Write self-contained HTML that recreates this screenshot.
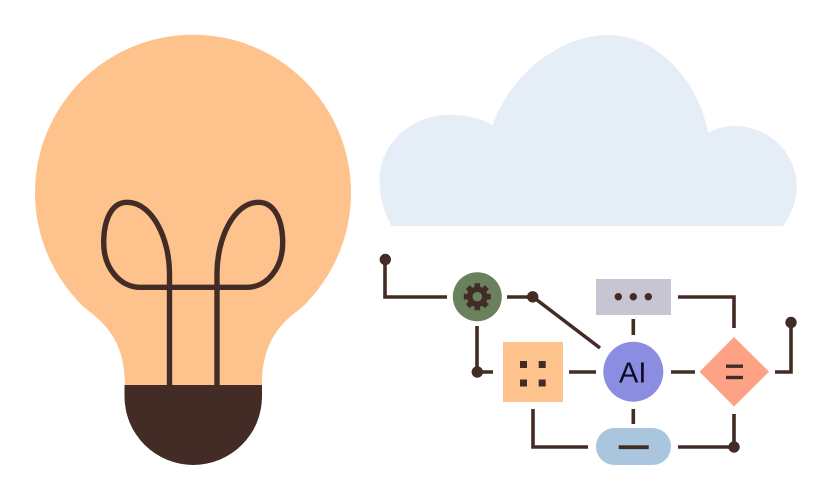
<!DOCTYPE html>
<html>
<head>
<meta charset="utf-8">
<style>
html,body{margin:0;padding:0;background:#fff;width:832px;height:500px;overflow:hidden}
svg{display:block}
</style>
</head>
<body>
<svg width="832" height="500" viewBox="0 0 832 500" xmlns="http://www.w3.org/2000/svg">
<!-- bulb -->
<path d="M77 300 A158 158 0 1 1 309 300 C305 305 301 308 296 312 C278 326 262 345 262 385 L125 385 C125 345 108 326 90 312 C85 308 81 305 77 300 Z" fill="#fec28c"/>
<path d="M124.500 385 H262 V396.500 A68.750 68.500 0 0 1 124.500 396.500 Z" fill="#422c25"/>
<g fill="none" stroke="#422c25" stroke-width="5.400">
<path d="M169.500 386 V273 C169.500 240 153 202.300 127 202.300 C111 202.300 103.700 221 103.700 243 C103.700 268 120 287.300 140 287.300 H247 C267 287.300 282.700 268 282.700 243 C282.700 221 275 202.300 258.500 202.300 C233 202.300 217 240 217 273 V386"/>
</g>
<!-- cloud -->
<path d="M391.700 226 C384 213 379.500 197 379.500 180 C379.500 144 411 114.700 450 114.700 C465 114.700 480 118 492.700 125 C510 75 560 35 608 35 C660 35 700 85 708 132.700 C717 128 725 126 735 126 C769 126 796.700 153 796.700 186.700 C796.700 201 791 215 783 226 Z" fill="#e5edf7"/>
<!-- connectors -->
<g fill="none" stroke="#422c25" stroke-width="3.600">
<path d="M385 260 V297 H447"/>
<path d="M507 297 H533 L600 348"/>
<path d="M477 326 V372 H493"/>
<path d="M569 372 H596"/>
<path d="M533 409 V447 H588"/>
<path d="M633.300 319 V335"/>
<path d="M633.300 409 V424"/>
<path d="M671 372 H695"/>
<path d="M678 297 H734 V328"/>
<path d="M775 372 H791 V322"/>
<path d="M734 414 V447 H678"/>
</g>
<g fill="#422c25">
<circle cx="385.300" cy="259.500" r="5.700"/>
<circle cx="532.700" cy="296.800" r="5.700"/>
<circle cx="477.300" cy="372" r="5.700"/>
<circle cx="791" cy="322.500" r="5.700"/>
<circle cx="734" cy="447" r="5.700"/>
</g>
<!-- gear node -->
<circle cx="477.300" cy="296.700" r="24.500" fill="#6a815e"/>
<g transform="translate(477.300 296.700)">
<circle r="7.500" fill="none" stroke="#422c25" stroke-width="5.500"/>
<g fill="#422c25">
<rect x="-2.800" y="-13.500" width="5.600" height="27"/>
<rect x="-2.800" y="-13.500" width="5.600" height="27" transform="rotate(45)"/>
<rect x="-2.800" y="-13.500" width="5.600" height="27" transform="rotate(90)"/>
<rect x="-2.800" y="-13.500" width="5.600" height="27" transform="rotate(135)"/>
</g>
<circle r="4.800" fill="#6a815e"/>
</g>
<!-- square node -->
<rect x="503" y="342" width="60" height="60" fill="#fec28c"/>
<g fill="#422c25">
<rect x="520" y="361" width="7" height="7"/>
<rect x="538.700" y="361" width="7" height="7"/>
<rect x="520" y="379.500" width="7" height="7"/>
<rect x="538.700" y="379.500" width="7" height="7"/>
</g>
<!-- dots rect -->
<rect x="596" y="279" width="75" height="36" fill="#c5c6d2"/>
<g fill="#422c25">
<circle cx="618.300" cy="296.700" r="3.700"/>
<circle cx="633.300" cy="296.700" r="3.700"/>
<circle cx="648.300" cy="296.700" r="3.700"/>
</g>
<!-- AI -->
<circle cx="633.300" cy="371.700" r="30" fill="#8a8de0"/>
<text x="632.700" y="382.500" font-family="'Liberation Sans',sans-serif" font-size="29" text-anchor="middle" fill="#0c0c24">AI</text>
<!-- diamond -->
<path d="M734 337 L769 371.700 L734 406.500 L699.500 371.700 Z" fill="#fea285"/>
<rect x="726" y="364.500" width="17" height="3.400" fill="#422c25"/>
<rect x="726" y="375.800" width="17" height="3.400" fill="#422c25"/>
<!-- pill -->
<rect x="596" y="428" width="75" height="37" rx="18.500" fill="#a9c6de"/>
<rect x="618.700" y="445.300" width="30" height="3.800" fill="#422c25"/>
</svg>
</body>
</html>
